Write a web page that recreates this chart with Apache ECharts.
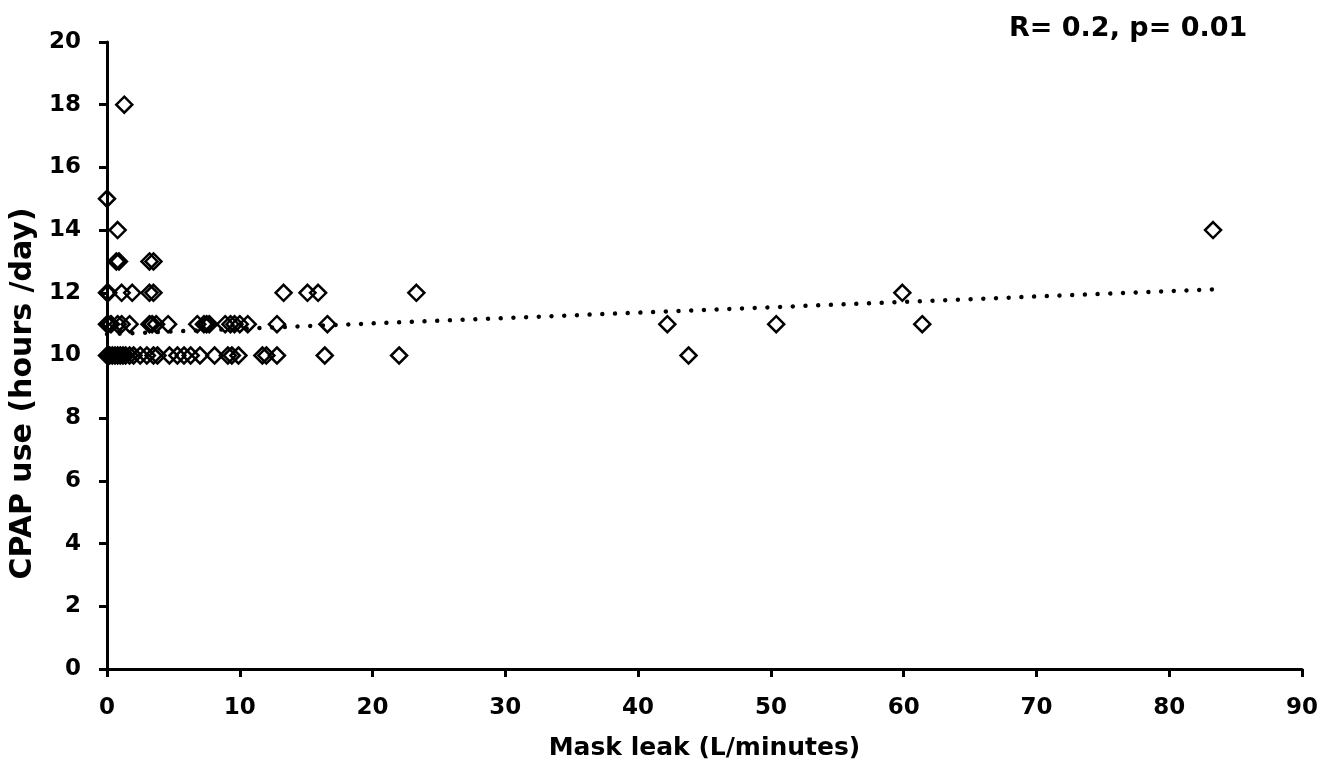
<!DOCTYPE html>
<html>
<head>
<meta charset="utf-8">
<script src="https://cdn.jsdelivr.net/npm/echarts@6/dist/echarts.min.js"></script>
<style>
html,body{margin:0;padding:0;background:#fff;}
#chart{width:1333px;height:766px;}
</style>
</head>
<body>
<div id="chart"></div>
<script>
// Mask leak (L/minutes) and CPAP use (hours/day) per patient
var maskLeak = [
  0, 0.2, 0.4, 0.6, 0.8, 1.0, 1.2, 1.4, 1.7, 2.0, 2.5, 3.0, 3.5, 3.8, 4.7, 5.3, 5.8, 6.3, 7.0, 8.1, 9.1, 9.4, 9.9, 11.7, 12.0, 12.8, 16.4, 22.0, 43.8,
  0, 0.1, 0.3, 0.8, 1.1, 1.7, 3.2, 3.4, 3.7, 4.6, 6.8, 7.3, 7.5, 7.7, 8.9, 9.3, 9.6, 10.0, 10.6, 12.8, 16.6, 42.2, 50.4, 61.4,
  0, 0.1, 1.1, 1.9, 3.2, 3.5, 13.3, 15.1, 15.9, 23.3, 59.9,
  0.7, 0.9, 3.2, 3.5,
  0.8, 83.3,
  0,
  1.3
];
var cpapUse = [
  10, 10, 10, 10, 10, 10, 10, 10, 10, 10, 10, 10, 10, 10, 10, 10, 10, 10, 10, 10, 10, 10, 10, 10, 10, 10, 10, 10, 10,
  11, 11, 11, 11, 11, 11, 11, 11, 11, 11, 11, 11, 11, 11, 11, 11, 11, 11, 11, 11, 11, 11, 11, 11,
  12, 12, 12, 12, 12, 12, 12, 12, 12, 12, 12,
  13, 13, 13, 13,
  14, 14,
  15,
  18
];
var trendX = [0, 83.3];
var trendY = [10.68, 12.11];
var xTicks = [0, 10, 20, 30, 40, 50, 60, 70, 80, 90];
var yTicks = [0, 2, 4, 6, 8, 10, 12, 14, 16, 18, 20];
var annotation = 'R= 0.2, p= 0.01';

var points = maskLeak.map(function (x, i) { return [x, cpapUse[i]]; });
var trend = trendX.map(function (x, i) { return [x, trendY[i]]; });

var FONT = 'DejaVu Sans';
var chart = echarts.init(document.getElementById('chart'), null, {renderer: 'canvas'});
chart.setOption({
  backgroundColor: '#ffffff',
  animation: false,
  grid: {left: 107, right: 31, top: 42, bottom: 97, containLabel: false},
  title: {
    text: annotation,
    left: 1004,
    top: 10,
    textStyle: {fontFamily: FONT, fontWeight: 'bold', fontSize: 27, color: '#000'}
  },
  xAxis: {
    type: 'value',
    min: xTicks[0],
    max: xTicks[xTicks.length - 1],
    interval: 10,
    name: 'Mask leak (L/minutes)',
    nameLocation: 'middle',
    nameGap: 67,
    nameTextStyle: {fontFamily: FONT, fontWeight: 'bold', fontSize: 25, color: '#000'},
    axisLine: {show: true, onZero: false, lineStyle: {color: '#000', width: 3}},
    axisTick: {show: true, length: 8, lineStyle: {color: '#000', width: 3}},
    axisLabel: {margin: 28, fontFamily: FONT, fontWeight: 'bold', fontSize: 23, color: '#000'},
    splitLine: {show: false}
  },
  yAxis: {
    type: 'value',
    min: yTicks[0],
    max: yTicks[yTicks.length - 1],
    interval: 2,
    name: 'CPAP use (hours /day)',
    nameLocation: 'middle',
    nameGap: 64,
    nameTextStyle: {fontFamily: FONT, fontWeight: 'bold', fontSize: 30, color: '#000', padding: [0, 76, 0, 0]},
    axisLine: {show: true, onZero: false, lineStyle: {color: '#000', width: 3}},
    axisTick: {show: true, length: 8, lineStyle: {color: '#000', width: 3}},
    axisLabel: {margin: 26, fontFamily: FONT, fontWeight: 'bold', fontSize: 23, color: '#000'},
    splitLine: {show: false}
  },
  series: [
    {
      type: 'line',
      data: trend,
      showSymbol: false,
      symbol: 'none',
      z: 1,
      lineStyle: {color: '#000', width: 4.5, type: [0.01, 12.7], cap: 'round'}
    },
    {
      type: 'scatter',
      data: points,
      symbol: 'diamond',
      symbolSize: 16,
      z: 2,
      itemStyle: {color: 'rgba(255,255,255,0)', borderColor: '#000', borderWidth: 2.5, opacity: 1}
    }
  ]
});
</script>
</body>
</html>
